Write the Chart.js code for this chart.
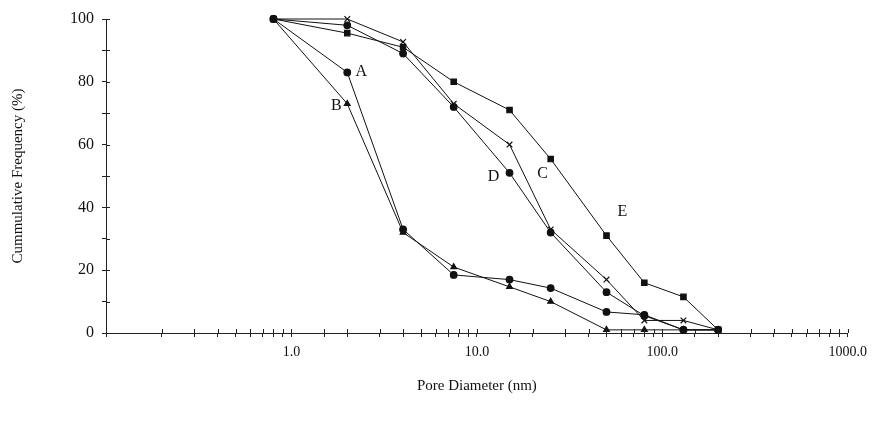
<!DOCTYPE html>
<html>
<head>
<meta charset="utf-8">
<script src="https://cdn.jsdelivr.net/npm/chart.js@4.4.1/dist/chart.umd.min.js"></script>
<style>
    html, body { margin: 0; padding: 0; background: #fff; }
    #wrap { width: 874px; height: 425px; }
</style>
</head>
<body>
<div id="wrap"><canvas id="poreChart"></canvas></div>
<script>

/* Data */

const diameters = [0.8, 2, 4, 7.5, 15, 25, 50, 80, 130, 200];

const curveA = [100, 83, 33, 18.5, 17, 14.3, 6.7, 5.8, 1, 1];
const curveB = [100, 73, 32, 21, 14.7, 10, 1, 1, 1, 1];
const curveC = [100, 100, 92.7, 73, 60, 33, 17, 4, 4, 1];
const curveD = [100, 98, 89, 72, 51, 32, 13, 5.5, 1, 1];
const curveE = [100, 95.5, 91, 80, 71, 55.4, 31, 16, 11.5, 1];

const xTickLabels = [1, 10, 100, 1000];

const serif = "'Liberation Serif', 'DejaVu Serif', serif";

function points(values) {
    return values.map((v, i) => ({ x: diameters[i], y: v }));
}

function series(label, values, style, radius) {
    return {
        label: label,
        data: points(values),
        borderColor: "#111",
        backgroundColor: "#111",
        borderWidth: 1,
        pointStyle: style,
        pointRadius: radius,
        pointBorderWidth: 1.2,
        tension: 0,
        clip: false
    };
}

/* Curve letters next to the lines */

const curveLetters = {
    id: "curveLetters",
    afterDatasetsDraw(chart) {
        const notes = [
            { text: "A", ds: 0, i: 1, dx: 14, dy: -1 },
            { text: "B", ds: 1, i: 1, dx: -11, dy: 2 },
            { text: "C", ds: 2, i: 4, dx: 33, dy: 29 },
            { text: "D", ds: 3, i: 4, dx: -16, dy: 4 },
            { text: "E", ds: 4, i: 6, dx: 16, dy: -24 }
        ];
        const ctx = chart.ctx;
        ctx.save();
        ctx.fillStyle = "#111";
        ctx.font = "16px " + serif;
        ctx.textAlign = "center";
        ctx.textBaseline = "middle";
        notes.forEach(n => {
            const p = chart.getDatasetMeta(n.ds).data[n.i];
            ctx.fillText(n.text, p.x + n.dx, p.y + n.dy);
        });
        ctx.restore();
    }
};

/* Tick marks that also reach inside the axes */

const innerTicks = {
    id: "innerTicks",
    afterDraw(chart) {
        const ctx = chart.ctx;
        const xs = chart.scales.x;
        const ys = chart.scales.y;
        ctx.save();
        ctx.strokeStyle = "#222";
        ctx.lineWidth = 1;
        ctx.beginPath();
        xs.ticks.forEach(t => {
            const px = Math.round(xs.getPixelForValue(t.value)) + 0.5;
            ctx.moveTo(px, xs.top);
            ctx.lineTo(px, xs.top - 4);
        });
        ys.ticks.forEach(t => {
            const py = Math.round(ys.getPixelForValue(t.value)) + 0.5;
            ctx.moveTo(ys.right, py);
            ctx.lineTo(ys.right + 4, py);
        });
        ctx.stroke();
        ctx.restore();
    }
};

new Chart(document.getElementById("poreChart"), {
    type: "line",
    data: {
        datasets: [
            series("A", curveA, "circle", 3.3),
            series("B", curveB, "triangle", 3.3),
            series("C", curveC, "crossRot", 4),
            series("D", curveD, "circle", 3.3),
            series("E", curveE, "rect", 3.8)
        ]
    },
    options: {
        responsive: true,
        maintainAspectRatio: false,
        animation: false,
        layout: {
            padding: { left: 0, top: 19, right: 22, bottom: 0 }
        },
        plugins: {
            legend: { display: false },
            tooltip: { enabled: false }
        },
        scales: {
            x: {
                type: "logarithmic",
                min: 0.1,
                max: 1000,
                afterFit(scale) { scale.height = 92; },
                border: { display: true, color: "#222", width: 1 },
                grid: {
                    drawOnChartArea: false,
                    drawTicks: true,
                    tickLength: 4,
                    color: "#222"
                },
                ticks: {
                    autoSkip: false,
                    maxRotation: 0,
                    padding: 7,
                    color: "#111",
                    font: { family: serif, size: 14 },
                    callback: value => xTickLabels.includes(Number(value)) ? Number(value).toFixed(1) : ""
                },
                title: {
                    display: true,
                    text: "Pore Diameter (nm)",
                    color: "#111",
                    font: { family: serif, size: 15 },
                    padding: { top: 4, bottom: 30 }
                }
            },
            y: {
                min: 0,
                max: 100,
                afterFit(scale) { scale.width = 106; },
                border: { display: true, color: "#222", width: 1 },
                grid: {
                    drawOnChartArea: false,
                    drawTicks: true,
                    tickLength: 4,
                    color: "#222"
                },
                ticks: {
                    stepSize: 10,
                    padding: 8,
                    color: "#111",
                    font: { family: serif, size: 16 },
                    callback: value => value % 20 === 0 ? value : ""
                },
                title: {
                    display: true,
                    text: "Cummulative Frequency (%)",
                    color: "#111",
                    font: { family: serif, size: 15 },
                    padding: { top: 9, bottom: 0 }
                }
            }
        }
    },
    plugins: [curveLetters, innerTicks]
});

</script>
</body>
</html>
